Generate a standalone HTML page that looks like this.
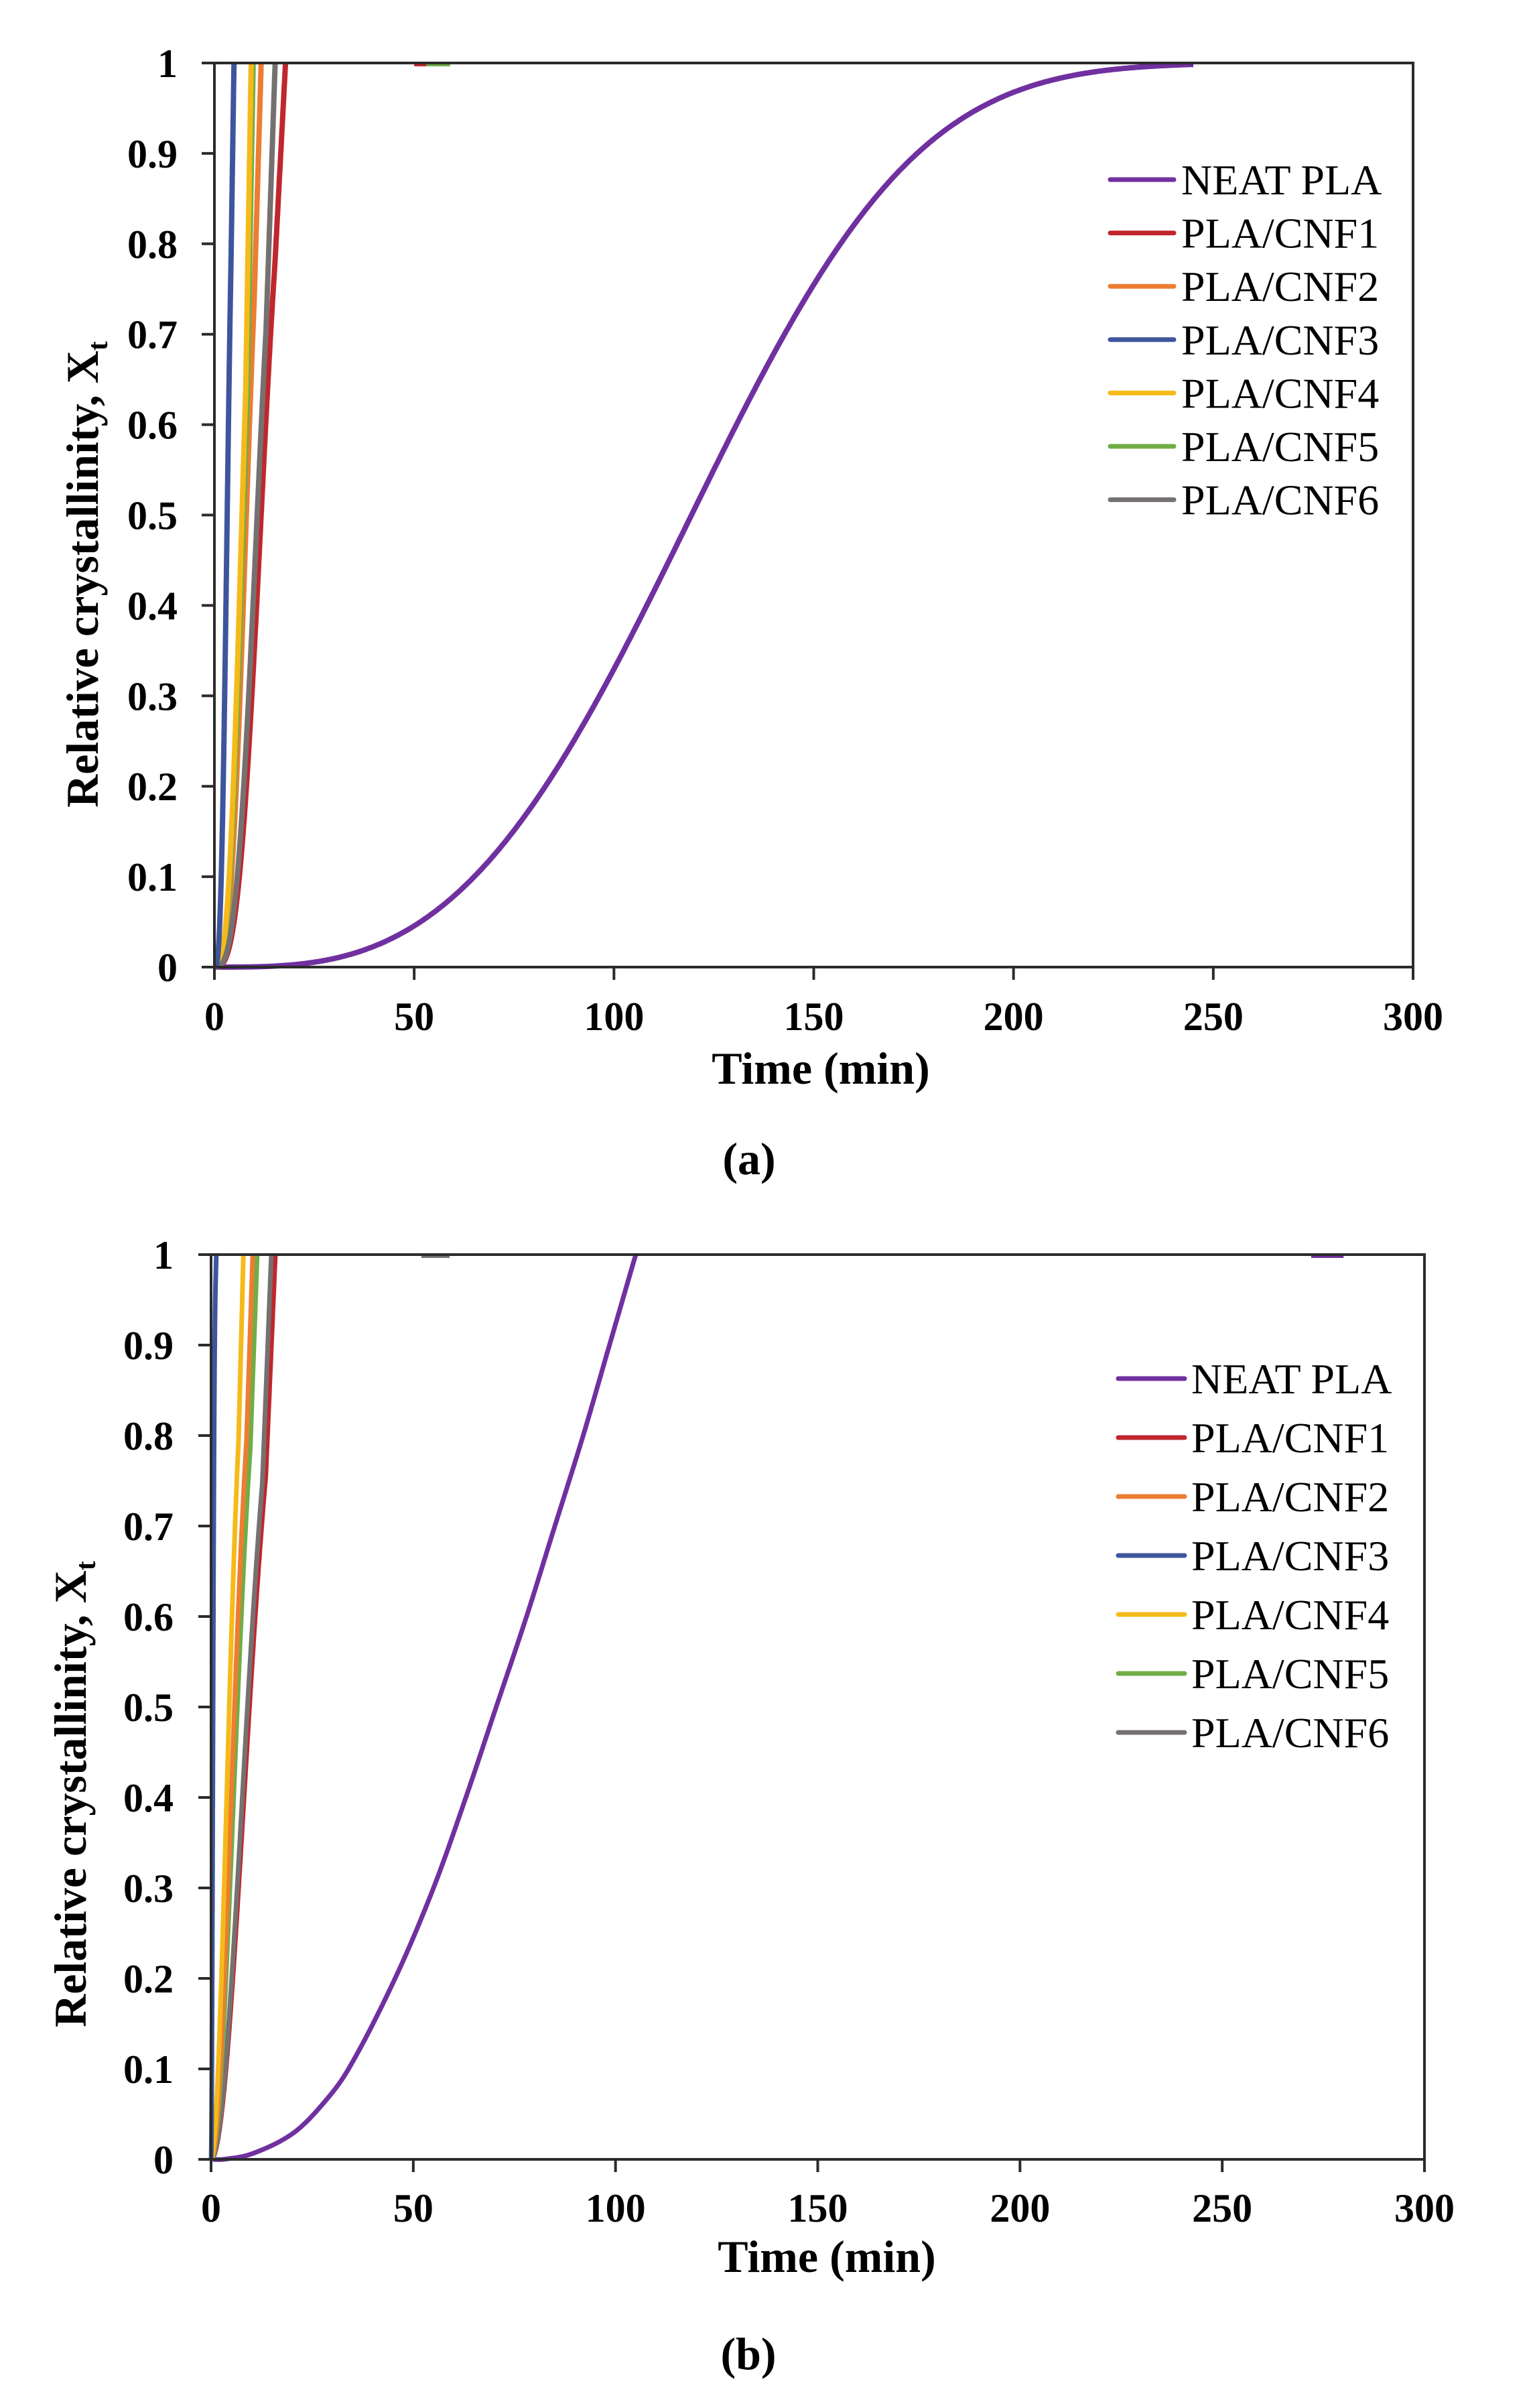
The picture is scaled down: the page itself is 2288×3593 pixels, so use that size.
<!DOCTYPE html>
<html><head><meta charset="utf-8"><style>
html,body{margin:0;padding:0;background:#fff}
svg{display:block}
text{font-family:"Liberation Serif","Times New Roman",serif;fill:#000}
.tk{font-size:60px;font-weight:bold}
.lg{font-size:64px}
.ti{font-size:68px;font-weight:bold}
</style></head><body>
<svg id="s" width="2288" height="3593" viewBox="0 0 2288 3593" xmlns="http://www.w3.org/2000/svg">
<g id="A"></g><g id="B"></g>
<text class="ti" x="1118" y="1752" text-anchor="middle" font-size="72">(a)</text>
<text class="ti" x="1117" y="3535" text-anchor="middle" font-size="72">(b)</text>
</svg>
<script>
var NS="http://www.w3.org/2000/svg";
function el(p,t,a,txt){var e=document.createElementNS(NS,t);for(var k in a)e.setAttribute(k,a[k]);if(txt!==undefined)e.textContent=txt;p.appendChild(e);return e;}
var C={neat:"#7030A0",c1:"#C0272D",c2:"#ED7D31",c3:"#3D559C",c4:"#F5BA1A",c5:"#70AD47",c6:"#767171"};
function avr(t50,n,tend){return function(t){if(t>=tend)return 1;var t0=tend*0.85;if(t>t0){var x0=1-Math.exp(-0.693*Math.pow(t0/t50,n));return x0+(1-x0)*(t-t0)/(tend-t0);}return 1-Math.exp(-0.693*Math.pow(t/t50,n));};}
function spline(pts){return function(t){var n=pts.length;if(t<=pts[0][0])return pts[0][1];if(t>=pts[n-1][0])return pts[n-1][1];
 for(var i=1;i<n;i++){if(t<=pts[i][0]){var p1=pts[i-1],p2=pts[i],p0=pts[Math.max(0,i-2)],p3=pts[Math.min(n-1,i+1)];
  var h=p2[0]-p1[0],u=(t-p1[0])/h;
  var m1=(p2[1]-p0[1])/(p2[0]-p0[0])*h,m2=(p3[1]-p1[1])/(p3[0]-p1[0])*h;
  var u2=u*u,u3=u2*u;
  return (2*u3-3*u2+1)*p1[1]+(u3-2*u2+u)*m1+(-2*u3+3*u2)*p2[1]+(u3-u2)*m2;}}};}
function plot(g,P){
 var L=P.L,R=P.R,T=P.T,Bt=P.B;
 function X(t){return L+(R-L)*t/300;} function Y(v){return Bt-(Bt-T)*v;}
 P.series.forEach(function(s){var d="";var N=500;for(var i=0;i<=N;i++){var t=s.tend*i/N;var v=s.f(t);d+=(i?"L":"M")+X(t).toFixed(1)+" "+Y(v).toFixed(1);}
  el(g,"path",{d:d,fill:"none",stroke:s.c,"stroke-width":P.lw,"stroke-linejoin":"round"});
  if(s.tail)el(g,"path",{d:"M"+X(s.tail[0])+" "+(T+3)+"L"+X(s.tail[1])+" "+(T+3),stroke:s.c,"stroke-width":4,fill:"none"});
 });
 el(g,"rect",{x:L,y:T,width:R-L,height:Bt-T,fill:"none",stroke:"#2b2b2b","stroke-width":4});
 for(var i=0;i<=10;i++){var y=Y(i/10);el(g,"line",{x1:L-19,y1:y,x2:L,y2:y,stroke:"#2b2b2b","stroke-width":4});
  el(g,"text",{"class":"tk",x:P.lx,y:y+21,"text-anchor":"end"},i==0?"0":i==10?"1":"0."+i);}
 for(var j=0;j<=6;j++){var x=X(j*50);el(g,"line",{x1:x,y1:Bt,x2:x,y2:Bt+19,stroke:"#2b2b2b","stroke-width":4});
  el(g,"text",{"class":"tk",x:x,y:P.xly,"text-anchor":"middle"},String(j*50));}
 el(g,"text",{"class":"ti",x:P.tx,y:P.ty,"text-anchor":"middle"},"Time (min)");
 var yt=el(g,"text",{"class":"ti","font-size":"66",transform:"translate("+P.yx+","+P.yy+") rotate(-90)","text-anchor":"middle"});
 yt.appendChild(document.createTextNode("Relative crystallinity, X"));
 el(yt,"tspan",{"font-size":"42",dy:"14"},"t");
 var names=["NEAT PLA","PLA/CNF1","PLA/CNF2","PLA/CNF3","PLA/CNF4","PLA/CNF5","PLA/CNF6"],cols=[C.neat,C.c1,C.c2,C.c3,C.c4,C.c5,C.c6];
 for(var k=0;k<7;k++){var yy=P.leg.y+k*P.leg.dy;
  el(g,"line",{x1:P.leg.x1,y1:yy,x2:P.leg.x2,y2:yy,stroke:cols[k],"stroke-width":7,"stroke-linecap":"round"});
  el(g,"text",{"class":"lg",x:P.leg.tx,y:yy+22},names[k]);}
}
plot(document.getElementById("A"),{L:320,R:2109,T:94,B:1443,lw:8,lx:265,xly:1537,tx:1225,ty:1617,yx:146,yy:857,
 leg:{x1:1657,x2:1752,tx:1763,y:268,dy:79.6},
 series:[
  {c:C.neat,f:function(t){return 1-Math.exp(-0.4*Math.pow(t/100,3.1));},tend:245},
  {c:C.c1,f:avr(11.7,3,17.8),tend:17.8,tail:[50,57]},
  {c:C.c2,f:avr(8.0,3,11.7),tend:11.7},
  {c:C.c5,f:avr(7.3,3,9.7),tend:9.7,tail:[53,59]},
  {c:C.c4,f:avr(6.9,3,9.2),tend:9.2},
  {c:C.c6,f:avr(10.7,3,15.2),tend:15.2},
  {c:C.c3,f:avr(3.2,3,4.9),tend:4.9}
 ]});
plot(document.getElementById("B"),{L:315,R:2126,T:1872,B:3222,lw:7,lx:259,xly:3315,tx:1234,ty:3390,yx:128,yy:2677,
 leg:{x1:1669,x2:1768,tx:1778,y:2057,dy:88},
 series:[
  {c:C.neat,f:spline([[0,0],[3,0],[10,0.006],[20,0.028],[27,0.058],[34,0.1],[45.5,0.2],[55,0.3],[63,0.4],[70.5,0.5],[78,0.6],[85,0.7],[92,0.8],[98.5,0.9],[105,1]]),tend:105,tail:[272,280]},
  {c:C.c1,f:avr(9.5,2,15.9),tend:15.9},
  {c:C.c6,f:avr(9.0,2,14.9),tend:14.9,tail:[52,59]},
  {c:C.c5,f:avr(6.5,2,11.4),tend:11.4},
  {c:C.c2,f:avr(5.8,2,10.3),tend:10.3},
  {c:C.c4,f:avr(4.5,2,8),tend:8},
  {c:C.c3,f:avr(0.5,2,1.3),tend:1.3}
 ]});
</script>
</body></html>
